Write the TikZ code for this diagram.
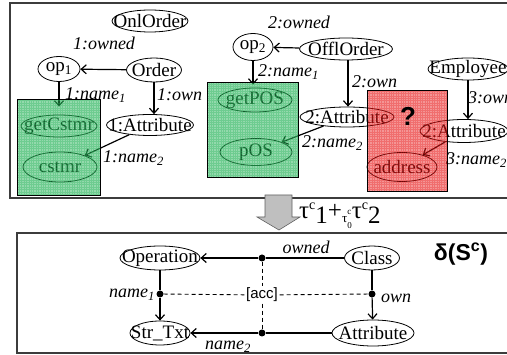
\documentclass[tikz,border=0pt]{standalone}
\usepackage{fontspec}
\setmainfont{Liberation Serif}
\newfontfamily\arial{Liberation Sans}
\usetikzlibrary{arrows.meta,shapes.geometric}
\definecolor{greenC}{RGB}{40,180,90}
\definecolor{redC}{RGB}{230,20,20}
\definecolor{frameC}{RGB}{60,60,60}
\tikzset{
  ell/.style={ellipse, draw, line width=0.8pt, inner sep=0pt},
  every label/.style={font=\fontsize{19}{21}\selectfont, inner sep=0pt},
  lab/.style={font=\fontsize{18}{20}\selectfont\itshape, inner sep=0pt},
  arr/.style={-{Straight Barb[length=5pt,width=9pt]}, line width=1.2pt},
  conn/.style={line width=1.2pt},
  dot/.style={circle, fill=black, inner sep=0pt, minimum size=7pt},
  dsh/.style={line width=0.9pt, dash pattern=on 4pt off 3pt},
  frame/.style={draw=frameC, line width=1.2pt},
  setbox/.style={line width=0.8pt},
}
\begin{document}
\begin{tikzpicture}[x=1pt,y=-1pt]
\useasboundingbox (0,0) rectangle (507,355);
\clip (0,0) rectangle (507,355);
% frames
\draw[frame] (10,3) rectangle (530,198);
\draw[frame] (17,233) rectangle (530,353);

% ---------- top part ----------
\node[ell, minimum width=76, minimum height=22, label={center:OnlOrder}] (onl) at (150,21) {};
\node[ell, minimum width=42, minimum height=25, label={center:op\textsubscript{1}}] (op1) at (59,69) {};
\node[ell, minimum width=55, minimum height=24, label={center:Order}] (order) at (154,70) {};
\node[ell, minimum width=87, minimum height=21, label={center:1:Attribute}] (att1) at (150,125) {};
\node[ell, minimum width=76, minimum height=22, label={center:getCstmr}] (getc) at (59,126) {};
\node[ell, minimum width=74, minimum height=30, label={center:cstmr}] (cstmr) at (60,167) {};
\node[ell, minimum width=40, minimum height=27, label={center:op\textsubscript{2}}] (op2) at (253,47) {};
\node[ell, minimum width=93, minimum height=22, label={center:OfflOrder}] (offl) at (346,49) {};
\node[ell, minimum width=74, minimum height=24, label={center:getPOS}] (getp) at (255,100) {};
\node[ell, minimum width=72, minimum height=27, label={center:pOS}] (pos) at (256,152) {};
\node[ell, minimum width=94, minimum height=20, label={center:2:Attribute}] (att2) at (347,117) {};
\node[ell, minimum width=80, minimum height=22, label={center:Employee}] (emp) at (468,69) {};
\node[ell, minimum width=88, minimum height=23, label={center:2:Attribute}] (att3) at (464,131) {};
\node[ell, minimum width=70, minimum height=29, label={center:address}] (addr) at (402,167) {};

\draw[arr] (order) -- (op1);
\draw[arr, shorten >=8pt] (op1.south) -- (op1.south |- getc.north);
\draw[arr] (order.south) -- (order.south |- att1.north);
\draw[arr] (att1) -- (cstmr);
\draw[arr] (offl) -- (op2);
\draw[arr, shorten >=3pt] (op2.south) -- (op2.south |- getp.north);
\draw[arr] ([xshift=2pt]offl.south) -- ([xshift=2pt]offl.south |- att2.north);
\draw[arr] (att2) -- (pos);
\draw[arr] (emp.south) -- (emp.south |- att3.north);
\draw[arr] (att3) -- (addr);

\node[lab] (l1) at (104,43) {1:owned};
\node[lab, anchor=west] (l2) at (65,95) {1:name\textsubscript{1}};
\node[lab, anchor=west] (l3) at (157,95) {1:own};
\node[lab, anchor=west] (l4) at (103,158) {1:name\textsubscript{2}};
\node[lab] (l5) at (299,22) {2:owned};
\node[lab, anchor=west] (l6) at (258,72) {2:name\textsubscript{1}};
\node[lab, anchor=west] (l7) at (352,82) {2:own};
\node[lab, anchor=west] (l8) at (302,143) {2:name\textsubscript{2}};
\node[lab, anchor=west] (l9) at (468,98) {3:own};
\node[lab, anchor=west] (l10) at (446,160) {3:name\textsubscript{2}};

% overlay sets (semi-transparent, gridded)
\fill[greenC, fill opacity=0.5] (17,99) rectangle (100,195);
\begin{scope}
  \clip (17,99) rectangle (100,195);
  \draw[greenC, draw opacity=0.35, line width=0.6pt, step=2.4pt] (17,99) grid (100,195);
\end{scope}
\draw[setbox] (17,99) rectangle (100,195);
\fill[greenC, fill opacity=0.5] (207,82) rectangle (298,177);
\begin{scope}
  \clip (207,82) rectangle (298,177);
  \draw[greenC, draw opacity=0.35, line width=0.6pt, step=2.4pt] (207,82) grid (298,177);
\end{scope}
\draw[setbox] (207,82) rectangle (298,177);
\fill[redC, fill opacity=0.45] (367,90) rectangle (447,191);
\begin{scope}
  \clip (367,90) rectangle (447,191);
  \draw[redC, draw opacity=0.3, line width=0.6pt, step=2.4pt] (367,90) grid (447,191);
\end{scope}
\draw[setbox] (367,90) rectangle (447,191);
\node[font=\arial\bfseries\fontsize{26}{28}\selectfont, inner sep=0pt] (q) at (408,116) {?};

% ---------- transition arrow ----------
\draw[fill=gray!50, draw=gray!75!black, line width=0.6pt]
  (265,195) -- (292,195) -- (292,217) -- (300,217) -- (279,230) -- (257,217) -- (265,217) -- cycle;
\node[anchor=base west, inner sep=0pt, font=\fontsize{25}{27}\selectfont] (tau) at (299,219)
  {τ\raisebox{9pt}{\fontsize{14}{14}\selectfont c}\raisebox{-5pt}{1}+\raisebox{-4pt}{\fontsize{13}{13}\selectfont τ}\rlap{\raisebox{4pt}{\fontsize{9}{9}\selectfont c}}\raisebox{-10pt}{\fontsize{9}{9}\selectfont 0}τ\raisebox{9pt}{\fontsize{14}{14}\selectfont c}\raisebox{-5pt}{2}};

% ---------- bottom part ----------
\node[ell, minimum width=80, minimum height=24, label={center:Operation}] (oper) at (160,258) {};
\node[ell, minimum width=55, minimum height=24, label={center:Class}] (cls) at (372,258) {};
\node[ell, minimum width=60, minimum height=24, label={center:Str\_Txt}] (str) at (160,333) {};
\node[ell, minimum width=82, minimum height=26, label={center:Attribute}] (attr) at (373,333) {};
\node[dot] (d1) at (262,258) {};
\node[dot] (d2) at (262,333) {};
\node[dot] (d3) at (160,294) {};
\node[dot] (d4) at (372,294) {};
\node[font=\arial\fontsize{15}{17}\selectfont, inner sep=1.5pt] (acc) at (262,295) {[acc]};

\draw[conn] (cls) -- (d1);
\draw[arr] (d1) -- (oper);
\draw[conn] (oper) -- (d3);
\draw[arr] (d3) -- (str);
\draw[conn] (cls) -- (d4);
\draw[arr] (d4) -- (attr);
\draw[conn] (attr) -- (d2);
\draw[arr] (d2) -- (str);
\draw[dsh] (d3) -- (acc) -- (d4);
\draw[dsh] (d1) -- (acc) -- (d2);

\node[lab] (lo) at (306,247) {owned};
\node[lab, anchor=east] (ln1) at (155,295) {name\textsubscript{1}};
\node[lab, anchor=west] (lown) at (381,298) {own};
\node[lab] (ln2) at (228,347) {name\textsubscript{2}};
\node[font=\arial\bfseries\fontsize{23}{25}\selectfont, inner sep=0pt] (delta) at (461,254) {δ(S\textsuperscript{c})};
\end{tikzpicture}
\end{document}
